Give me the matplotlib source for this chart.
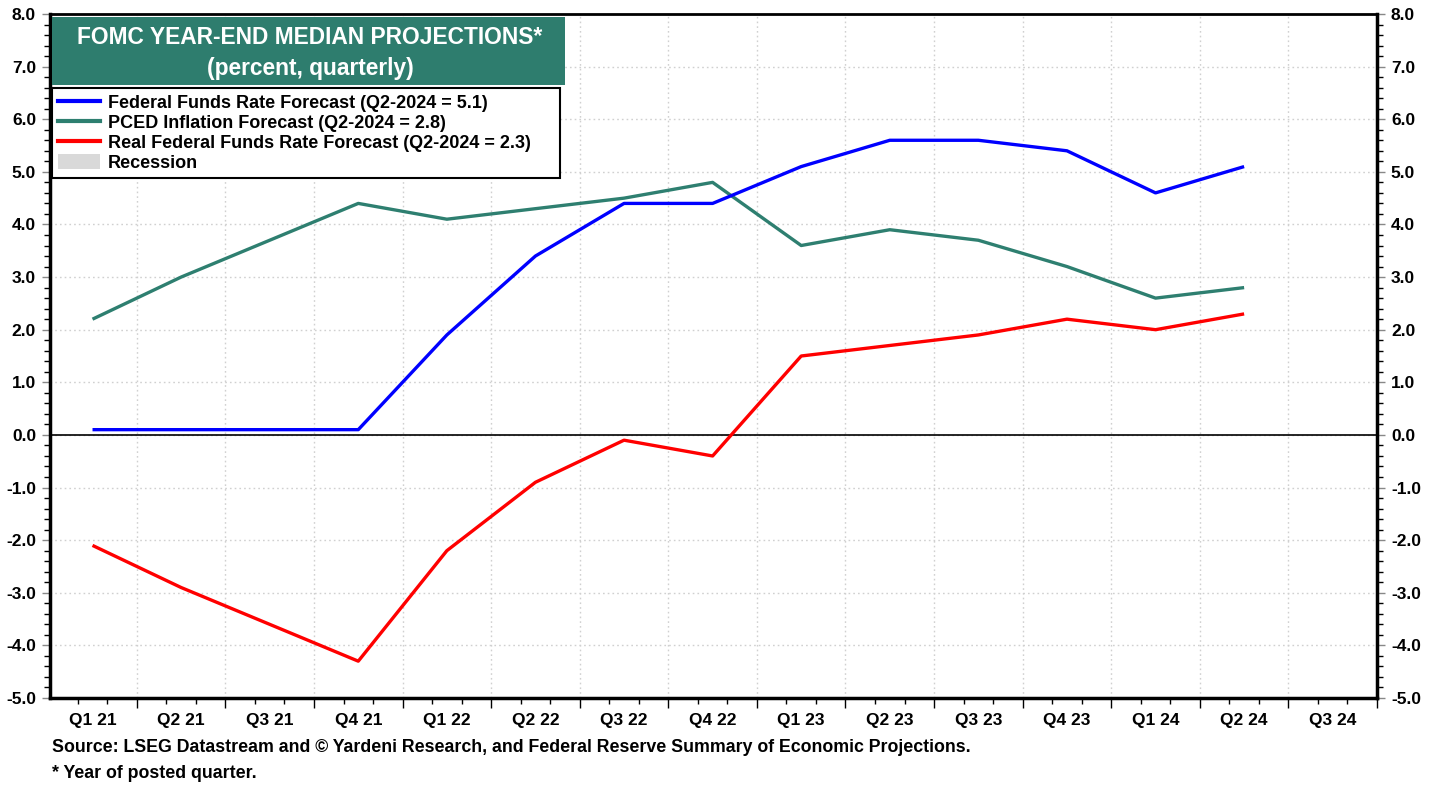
import matplotlib
matplotlib.use("Agg")
import matplotlib.pyplot as plt
from matplotlib.patches import Rectangle, Patch
from matplotlib.lines import Line2D
from matplotlib.ticker import MultipleLocator, FixedLocator, FormatStrFormatter

plt.rcParams['font.family'] = ['Liberation Sans', 'DejaVu Sans']
plt.rcParams['font.weight'] = 'bold'

quarters = ["Q1 21", "Q2 21", "Q3 21", "Q4 21", "Q1 22", "Q2 22", "Q3 22", "Q4 22",
            "Q1 23", "Q2 23", "Q3 23", "Q4 23", "Q1 24", "Q2 24", "Q3 24"]
fed_funds = [0.1, 0.1, 0.1, 0.1, 1.9, 3.4, 4.4, 4.4, 5.1, 5.6, 5.6, 5.4, 4.6, 5.1]
pced = [2.2, 3.0, 3.7, 4.4, 4.1, 4.3, 4.5, 4.8, 3.6, 3.9, 3.7, 3.2, 2.6, 2.8]
real_ff = [-2.1, -2.9, -3.6, -4.3, -2.2, -0.9, -0.1, -0.4, 1.5, 1.7, 1.9, 2.2, 2.0, 2.3]

BLUE = "#0000FF"
TEAL = "#2E7F70"
RED = "#FF0000"

W, H = 1438, 787
fig = plt.figure(figsize=(W / 100, H / 100), dpi=100)
ax = fig.add_axes([50 / W, 1 - 698 / H, 1327 / W, 684 / H])

x = list(range(len(fed_funds)))
ax.plot(x, fed_funds, color=BLUE, lw=2.4, solid_capstyle='butt', zorder=4)
ax.plot(x, pced, color=TEAL, lw=2.4, solid_capstyle='butt', zorder=3)
ax.plot(x, real_ff, color=RED, lw=2.4, solid_capstyle='butt', zorder=5)
ax.axhline(0, color='black', lw=1.2, zorder=2)

ax.set_xlim(-0.48, len(quarters) - 0.5)
ax.set_ylim(-5, 8)

# y axis: labels on both sides, ticks outward
ax.yaxis.set_major_locator(MultipleLocator(1))
ax.yaxis.set_minor_locator(MultipleLocator(0.2))
ax.yaxis.set_major_formatter(FormatStrFormatter('%.1f'))
ax.tick_params(axis='y', which='both', left=True, right=True, labelleft=True,
               labelright=True, direction='out', labelsize=12.5, pad=4)
ax.tick_params(axis='y', which='major', length=6, width=1, color='#888888')
ax.tick_params(axis='y', which='minor', length=4, width=1, color='black')

# x axis: quarter boundaries as major ticks, months as minor, labels centred
bounds = [i - 0.5 for i in range(len(quarters) + 1)]
months = [b + k / 3 for b in bounds[:-1] for k in (1, 2)]
ax.xaxis.set_major_locator(FixedLocator(bounds))
ax.xaxis.set_minor_locator(FixedLocator(months))
ax.set_xticklabels([])
ax.tick_params(axis='x', which='major', length=7, width=1, direction='out', color='black')
ax.tick_params(axis='x', which='minor', length=4, width=1, direction='out', color='black')
for i, q in enumerate(quarters):
    ax.text(i, -5.42, q, ha='center', va='center', fontsize=12.5, fontweight='bold')

ax.grid(True, which='major', axis='both', color='#d0d0d0', linestyle=(0, (1.2, 2.2)), lw=1.0)
ax.set_axisbelow(True)

for side in ('left', 'right', 'bottom'):
    ax.spines[side].set_linewidth(2.5)
ax.spines['top'].set_linewidth(2)

# title box
ax.add_patch(Rectangle((52 / W, 1 - 85 / H), 513 / W, 68 / H,
                       transform=fig.transFigure, facecolor='#2E7D6E',
                       edgecolor='none', zorder=10, clip_on=False))
fig.text(310 / W, 1 - 37 / H, "FOMC YEAR-END MEDIAN PROJECTIONS*", ha='center',
         va='center', color='white', fontsize=16.4, fontweight='bold', zorder=11)
fig.text(310 / W, 1 - 68 / H, "(percent, quarterly)", ha='center', va='center',
         color='white', fontsize=16.4, fontweight='bold', zorder=11)

# legend box with its own frame
ax.add_patch(Rectangle((52 / W, 1 - 178 / H), 508 / W, 90 / H,
                       transform=fig.transFigure, facecolor='white',
                       edgecolor='black', lw=1.5, zorder=11, clip_on=False))
handles = [Line2D([], [], color=BLUE, lw=3),
           Line2D([], [], color=TEAL, lw=3),
           Line2D([], [], color=RED, lw=3),
           Patch(facecolor='#d9d9d9', edgecolor='none')]
labels = ["Federal Funds Rate Forecast (Q2-2024 = 5.1)",
          "PCED Inflation Forecast (Q2-2024 = 2.8)",
          "Real Federal Funds Rate Forecast (Q2-2024 = 2.3)",
          "Recession"]
leg = ax.legend(handles, labels, loc='upper left',
                bbox_to_anchor=(53 / W, 1 - 89 / H), bbox_transform=fig.transFigure,
                frameon=False, prop={'weight': 'bold', 'size': 13}, borderpad=0.3,
                labelspacing=0.12, handlelength=2.3, handleheight=0.9,
                handletextpad=0.45, borderaxespad=0)
leg.set_zorder(12)

fig.text(52 / W, 1 - 748 / H,
         "Source: LSEG Datastream and \u00a9 Yardeni Research, and Federal Reserve Summary of Economic Projections.",
         ha='left', va='center', fontsize=12.8, fontweight='bold')
fig.text(52 / W, 1 - 773 / H, "* Year of posted quarter.", ha='left', va='center',
         fontsize=12.8, fontweight='bold')

fig.savefig("out.png", dpi=100)
